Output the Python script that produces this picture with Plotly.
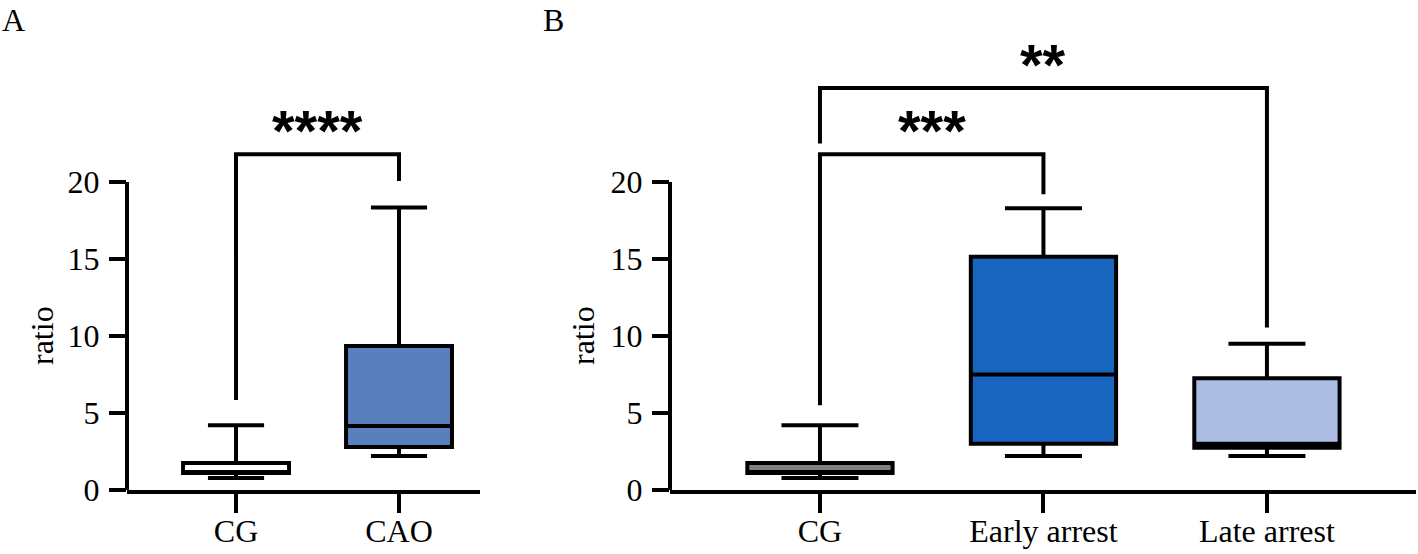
import plotly.graph_objects as go

# ---- data ----
# panel A
a_groups = ['CG', 'CAO']
a_q1 = [1.1, 2.8]
a_median = [1.15, 4.15]
a_q3 = [1.75, 9.35]
a_low = [0.78, 2.2]
a_high = [4.2, 18.35]
a_fill = ['#ffffff', '#5a7fbf']

# panel B
b_groups = ['CG', 'Early arrest', 'Late arrest']
b_q1 = [1.1, 3.0, 2.75]
b_median = [1.15, 7.5, 3.0]
b_q3 = [1.75, 15.15, 7.25]
b_low = [0.78, 2.2, 2.2]
b_high = [4.2, 18.3, 9.5]
b_fill = ['#808080', '#1865c0', '#abbde2']

# significance brackets: x = group index, y = ratio
a_sig_x = [0, 0, 1, 1]
a_sig_y = [5.85, 21.8, 21.8, 20.06]
a_sig_label = '****'
a_sig_label_pos = (0.5, 23.75)

b_sig1_x = [0, 0, 1, 1]
b_sig1_y = [5.5, 21.8, 21.8, 19.2]
b_sig1_label = '***'
b_sig1_label_pos = (0.5, 23.75)

b_sig2_x = [0, 0, 2, 2]
b_sig2_y = [22.5, 26.1, 26.1, 10.55]
b_sig2_label = '**'
b_sig2_label_pos = (1.0, 28.0)

y_ticks = [0, 5, 10, 15, 20]
y_top = 29

SERIF = 'Liberation Serif, Times New Roman, serif'
FS = 32
LW = 4

fig = go.Figure()


def add_boxes(xref, yref, q1, med, q3, low, high, fills):
    for i in range(len(q1)):
        fig.add_trace(go.Box(
            x=[i], q1=[q1[i]], median=[med[i]], q3=[q3[i]],
            lowerfence=[low[i]], upperfence=[high[i]],
            width=0.65, whiskerwidth=0.53,
            fillcolor=fills[i],
            line=dict(color='black', width=LW),
            boxpoints=False, showlegend=False,
            xaxis=xref, yaxis=yref,
        ))


def add_bracket(xref, yref, xs, ys):
    fig.add_trace(go.Scatter(
        x=xs, y=ys, mode='lines',
        line=dict(color='black', width=LW),
        hoverinfo='skip', showlegend=False,
        xaxis=xref, yaxis=yref,
    ))


add_boxes('x', 'y', a_q1, a_median, a_q3, a_low, a_high, a_fill)
add_boxes('x2', 'y2', b_q1, b_median, b_q3, b_low, b_high, b_fill)

add_bracket('x', 'y', a_sig_x, a_sig_y)
add_bracket('x2', 'y2', b_sig1_x, b_sig1_y)
add_bracket('x2', 'y2', b_sig2_x, b_sig2_y)

star_font = dict(family='Liberation Sans, Arial, sans-serif', size=58, color='black')
for (xr, yr, txt, pos) in [('x', 'y', a_sig_label, a_sig_label_pos),
                           ('x2', 'y2', b_sig1_label, b_sig1_label_pos),
                           ('x2', 'y2', b_sig2_label, b_sig2_label_pos)]:
    fig.add_annotation(x=pos[0], y=pos[1], xref=xr, yref=yr, text='<b>%s</b>' % txt,
                       showarrow=False, font=star_font, xanchor='center',
                       yanchor='middle', yshift=-6)

# y axis lines stop at the top tick
for xr, yr in [('x domain', 'y'), ('x2 domain', 'y2')]:
    fig.add_shape(type='line', xref=xr, yref=yr, x0=0, x1=0, y0=0, y1=y_ticks[-1],
                  line=dict(color='black', width=LW))

# axis titles, centred on the 0-20 span
for xr, yr, px in [('paper', 'y', 42), ('paper', 'y2', 583)]:
    fig.add_annotation(x=px / 1418, y=y_ticks[-1] / 2, xref=xr, yref=yr, text='ratio',
                       textangle=-90, showarrow=False, xanchor='center', yanchor='middle',
                       font=dict(family=SERIF, size=FS, color='black'))

# panel letters
for letter, px in [('A', 0), ('B', 541)]:
    fig.add_annotation(x=px / 1418, y=1.0, xref='paper', yref='paper', text=letter,
                       showarrow=False, xanchor='left', yanchor='top', yshift=0,
                       font=dict(family=SERIF, size=FS, color='black'))

ydom = [64 / 554, (554 - 43.4) / 554]
yax = dict(range=[0, y_top], domain=ydom, tickvals=y_ticks, ticks='outside',
           ticklen=17, tickwidth=LW, tickcolor='black', showline=False,
           showgrid=False, zeroline=False, ticklabelstandoff=3, automargin=False,
           tickfont=dict(family=SERIF, size=FS, color='black'))
xax = dict(ticks='outside', ticklen=19, tickwidth=LW, tickcolor='black',
           showline=True, linewidth=LW, linecolor='black', showgrid=False,
           zeroline=False, ticklabelstandoff=-9, automargin=False,
           tickfont=dict(family=SERIF, size=FS, color='black'))

fig.update_layout(
    width=1418, height=554,
    margin=dict(l=0, r=0, t=0, b=0),
    plot_bgcolor='white', paper_bgcolor='white',
    xaxis=dict(xax, domain=[127 / 1418, 480 / 1418], range=[-0.669, 1.497],
               tickvals=list(range(len(a_groups))), ticktext=a_groups, anchor='y'),
    yaxis=dict(yax, anchor='x'),
    xaxis2=dict(xax, domain=[670 / 1418, 1416 / 1418], range=[-0.671, 2.667],
                tickvals=list(range(len(b_groups))), ticktext=b_groups, anchor='y2'),
    yaxis2=dict(yax, anchor='x2'),
)

fig.write_html('out.html', config={'displayModeBar': False},
               post_script="document.body.style.margin='0';document.body.style.overflow='hidden';")
